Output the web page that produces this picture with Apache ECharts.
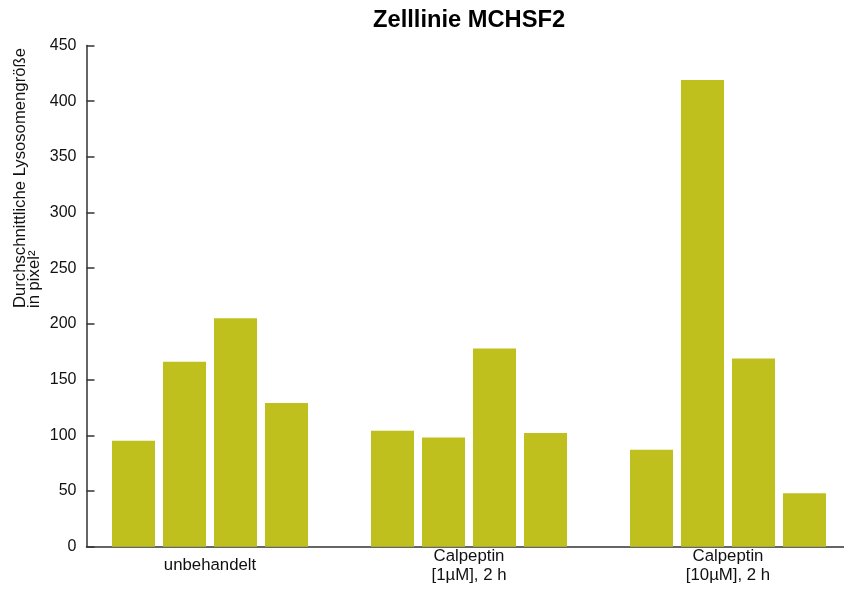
<!DOCTYPE html>
<html>
<head>
<meta charset="utf-8">
<script src="https://cdn.jsdelivr.net/npm/echarts@6/dist/echarts.min.js"></script>
<style>
  html, body { margin: 0; padding: 0; background: #fff; }
  #chart { width: 844px; height: 592px; }
</style>
</head>
<body>
<div id="chart"></div>
<script>
// Gruppen (x-Achse)
const categories = ["unbehandelt", "Calpeptin\n[1µM], 2 h", "Calpeptin\n[10µM], 2 h"];
// vier Balken je Gruppe, Werte in pixel²
const bar1 = [95, 104, 87];
const bar2 = [166, 98, 419];
const bar3 = [205, 178, 169];
const bar4 = [129, 102, 48];
const yTicks = [0, 50, 100, 150, 200, 250, 300, 350, 400, 450];

const font = "'Liberation Sans', Arial, sans-serif";
const barColor = "#bfc01e";

let myChart = echarts.init(document.getElementById("chart"));

const mkSeries = (data) => ({
  type: "bar",
  xAxisIndex: 0,
  yAxisIndex: 0,
  barWidth: 43,
  barGap: "18.6%",
  itemStyle: { color: barColor },
  data: data
});

myChart.setOption({
  animation: false,
  title: {
    text: "Zelllinie MCHSF2",
    left: 373,
    top: 8,
    padding: 0,
    textStyle: { fontFamily: font, fontSize: 23.7, fontWeight: "bold", color: "#000" }
  },
  // grid 0: Balken (ragt rechts etwas hinaus), grid 1: sichtbare Achsen
  grid: [
    { left: 80.5, width: 777, top: 45.4, bottom: 45.3, outerBoundsMode: "none", containLabel: false },
    { left: 86.5, right: 0, top: 45.4, bottom: 45.3, outerBoundsMode: "none", containLabel: false }
  ],
  xAxis: [
    {
      type: "category",
      gridIndex: 0,
      data: categories,
      axisLine: { show: false },
      axisTick: { show: false },
      axisLabel: {
        margin: 19,
        fontFamily: font,
        fontSize: 16.8,
        lineHeight: 19,
        color: "#111",
        verticalAlign: "middle"
      }
    },
    {
      type: "category",
      gridIndex: 1,
      data: categories,
      axisLine: { show: true, lineStyle: { color: "#333", width: 1.5 } },
      axisTick: { show: false },
      axisLabel: { show: false }
    }
  ],
  yAxis: [
    {
      type: "value",
      gridIndex: 0,
      min: yTicks[0],
      max: yTicks[yTicks.length - 1],
      interval: 50,
      show: false
    },
    {
      type: "value",
      gridIndex: 1,
      min: yTicks[0],
      max: yTicks[yTicks.length - 1],
      interval: 50,
      name: "Durchschnittliche Lysosomengröße\nin pixel²",
      nameLocation: "middle",
      nameRotate: 90,
      nameGap: 59,
      nameMoveOverlap: false,
      nameTextStyle: {
        fontFamily: font,
        fontSize: 16.7,
        lineHeight: 14.5,
        color: "#111",
        align: "left",
        verticalAlign: "middle",
        padding: [0, 0, 0, -12]
      },
      axisLine: { show: true, lineStyle: { color: "#333", width: 1.5 } },
      axisTick: { show: true, inside: true, length: 8, lineStyle: { color: "#333", width: 1.5 } },
      axisLabel: { margin: 10, fontFamily: font, fontSize: 16, color: "#111" },
      splitLine: { show: false }
    }
  ],
  series: [mkSeries(bar1), mkSeries(bar2), mkSeries(bar3), mkSeries(bar4)]
});
</script>
</body>
</html>
